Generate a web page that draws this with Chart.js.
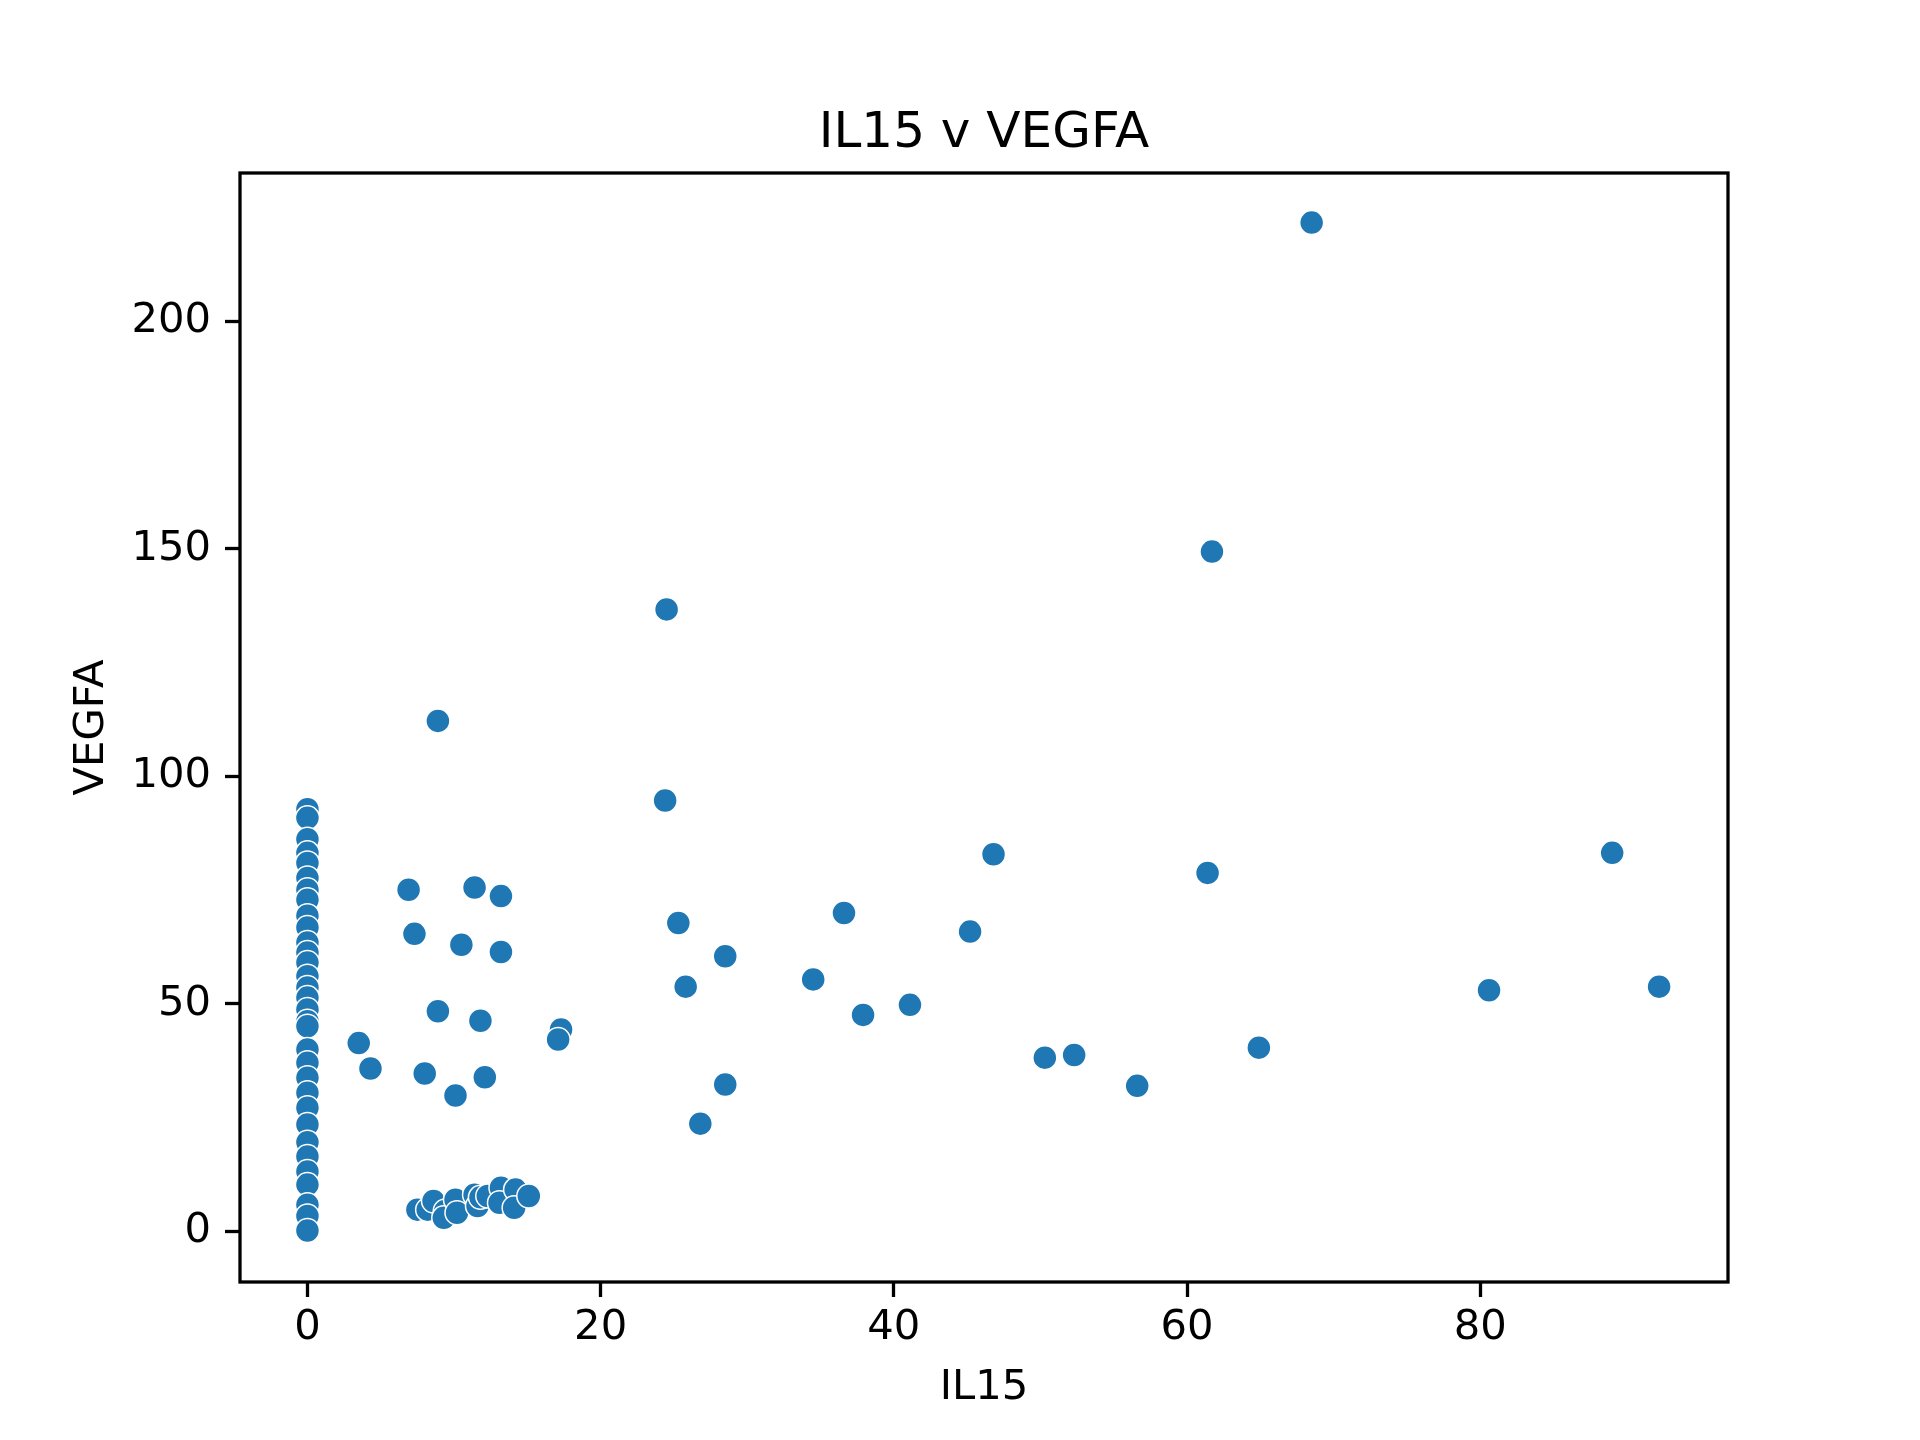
<!DOCTYPE html>
<html>
<head>
<meta charset="utf-8">
<title>IL15 v VEGFA</title>
<script src="https://cdn.jsdelivr.net/npm/chart.js@4.4.1/dist/chart.umd.min.js"></script>
<style>
  body { margin: 0; background: #ffffff; }
  canvas { display: block; }
</style>
</head>
<body>
<canvas id="scatterChart" width="1920" height="1440"></canvas>
<script>
// IL15 (x) values, one per sample
const il15Values = [
    // column at IL15 = 0
    0, 0, 0, 0, 0, 0, 0, 0, 0, 0, 0, 0, 0, 0, 0, 0,
    0, 0, 0, 0, 0, 0, 0, 0, 0, 0, 0, 0, 0, 0, 0, 0,
    // low cluster
    7.5, 8.2, 8.6, 9.4, 9.3, 10.1, 10.2, 11.4, 11.6, 11.8, 12.3, 13.2, 13.1, 14.2, 14.1, 15.1,
    // the rest
    68.5, 61.7, 24.5, 8.9, 24.4, 46.8, 89.0, 61.4, 6.9, 11.4,
    13.2, 36.6, 25.3, 7.3, 45.2, 10.5, 13.2, 28.5, 34.5, 25.8,
    92.2, 80.6, 41.1, 8.9, 37.9, 11.8, 17.3, 17.1, 3.5, 64.9,
    52.3, 50.3, 4.3, 8.0, 12.1, 28.5, 56.6, 10.1, 26.8
];

// VEGFA (y) values, same order
const vegfaValues = [
    92.8, 90.9, 86.2, 83.2, 81.0, 77.7, 75.1, 72.9, 69.4, 66.8, 63.5, 61.3, 59.1, 56.1, 53.6, 51.4,
    48.8, 46.2, 45.1, 40.0, 37.1, 33.8, 30.5, 27.2, 23.5, 19.6, 16.5, 13.2, 10.3, 5.9, 3.4, 0.2,
    4.8, 4.8, 6.7, 4.5, 3.0, 7.0, 4.1, 8.1, 5.6, 7.5, 7.8, 9.6, 6.3, 9.2, 5.2, 7.8,
    221.7, 149.4, 136.7, 112.2, 94.7, 82.9, 83.2, 78.8, 75.1, 75.6,
    73.7, 70.0, 67.8, 65.4, 65.9, 63.0, 61.4, 60.5, 55.4, 53.8,
    53.8, 53.0, 49.8, 48.4, 47.6, 46.3, 44.4, 42.2, 41.4, 40.4,
    38.8, 38.2, 35.8, 34.7, 33.9, 32.3, 32.0, 29.9, 23.7
];

const xTicks = [0, 20, 40, 60, 80];
const yTicks = [0, 50, 100, 150, 200];

const points = il15Values.map((x, i) => ({ x: x, y: vegfaValues[i] }));

const fontFamily = '"DejaVu Sans", sans-serif';
const tickFont = { family: fontFamily, size: 41.7 };

// kotak hitam di sekeliling area plot
const frameBox = {
    id: 'frameBox',
    afterDraw(chart) {
        const { ctx, chartArea } = chart;
        ctx.save();
        ctx.strokeStyle = '#000000';
        ctx.lineWidth = 3.3;
        ctx.strokeRect(chartArea.left, chartArea.top,
            chartArea.right - chartArea.left, chartArea.bottom - chartArea.top);
        ctx.restore();
    }
};

const ctx = document.getElementById('scatterChart').getContext('2d');
const scatterChart = new Chart(ctx, {
    type: 'scatter',
    data: {
        datasets: [{
            label: 'VEGFA',
            data: points,
            backgroundColor: '#1f77b4',
            borderColor: '#ffffff',
            borderWidth: 1.5,
            pointRadius: 12,
            pointHoverRadius: 12
        }]
    },
    options: {
        responsive: false,
        devicePixelRatio: 1,
        animation: false,
        layout: {
            padding: { left: 0, right: 192, top: 0, bottom: 0 }
        },
        plugins: {
            legend: { display: false },
            tooltip: { enabled: false },
            title: {
                display: true,
                fullSize: false,
                text: 'IL15 v VEGFA',
                color: '#000000',
                font: { family: fontFamily, size: 50, weight: 'normal' },
                padding: { top: 104, bottom: 9 }
            }
        },
        scales: {
            x: {
                type: 'linear',
                min: -4.6,
                max: 96.9,
                afterBuildTicks: (scale) => { scale.ticks = xTicks.map(v => ({ value: v })); },
                afterFit: (scale) => { scale.height = 158; },
                ticks: { color: '#000000', font: tickFont, padding: 6, maxRotation: 0 },
                grid: {
                    display: true, drawOnChartArea: false, drawTicks: true,
                    tickLength: 15, tickWidth: 3.3, tickColor: '#000000'
                },
                border: { display: false },
                title: {
                    display: true, text: 'IL15', color: '#000000',
                    font: tickFont, padding: { top: 0, bottom: 27 }
                }
            },
            y: {
                type: 'linear',
                min: -11.1,
                max: 232.6,
                afterBuildTicks: (scale) => { scale.ticks = yTicks.map(v => ({ value: v })); },
                afterFit: (scale) => { scale.width = 240; },
                ticks: { color: '#000000', font: tickFont, padding: 14 },
                grid: {
                    display: true, drawOnChartArea: false, drawTicks: true,
                    tickLength: 15, tickWidth: 3.3, tickColor: '#000000'
                },
                border: { display: false },
                title: {
                    display: true, text: 'VEGFA', color: '#000000',
                    font: tickFont, padding: { top: 67, bottom: 0 }
                }
            }
        }
    },
    plugins: [frameBox]
});
</script>
</body>
</html>
